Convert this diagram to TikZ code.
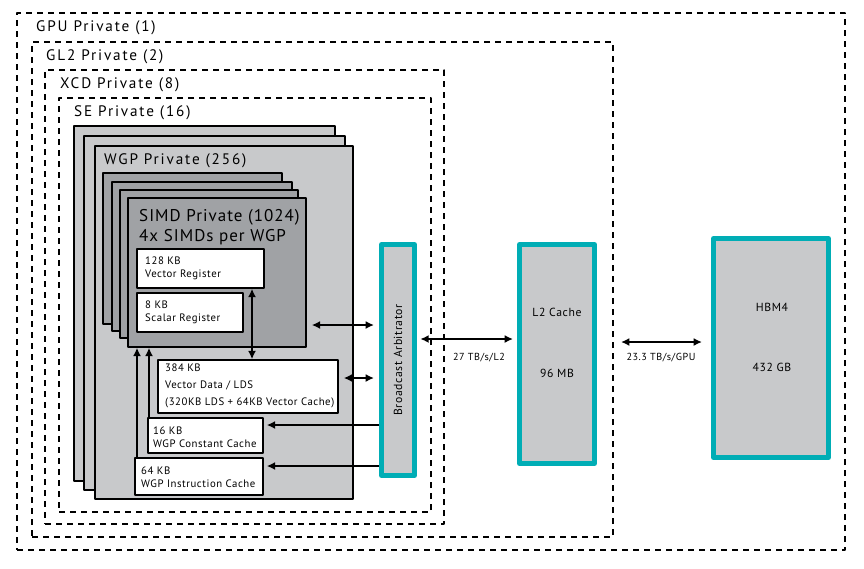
\documentclass[tikz,border=0pt]{standalone}
\usepackage{fontspec}
\setmainfont{PT Sans}
\newfontfamily\spacedfont[LetterSpace=12]{PT Sans}
\newfontfamily\simdfont[LetterSpace=6]{PT Sans}
\newfontfamily\smallfont[LetterSpace=5]{PT Sans}
\usetikzlibrary{arrows.meta,fit}
\usetikzlibrary{positioning}
\definecolor{wgpgray}{RGB}{200,201,203}
\definecolor{simdgray}{RGB}{160,162,165}
\definecolor{amdteal}{RGB}{0,173,181}
\tikzset{region/.style={draw,dash pattern=on 1.8mm off 1.5mm,line width=0.45mm,inner sep=0pt},
  wgpbox/.style={draw,fill=wgpgray,line width=0.45mm,inner sep=0pt},
  simdbox/.style={draw,fill=simdgray,line width=0.45mm,inner sep=0pt},
  membox/.style={draw,fill=white,line width=0.45mm,inner sep=0pt},
  tealbox/.style={draw=amdteal,fill=wgpgray,line width=1.5mm,inner sep=0pt},
  hdr/.style={anchor=west,inner sep=0pt,font=\spacedfont\fontsize{13}{15}\selectfont},
  small/.style={anchor=west,inner sep=0pt,align=left,font=\smallfont\fontsize{9.2}{11.2}\selectfont},
  celltxt/.style={font=\smallfont\fontsize{10}{12}\selectfont},
  bwtxt/.style={font=\smallfont\fontsize{8.7}{10}\selectfont},
  bus/.style={line width=0.55mm}}

\begin{document}
\begin{tikzpicture}[x=0.3mm,y=-0.3mm,>={Latex[length=2.5mm,width=2.4mm]},line join=round]
\useasboundingbox (0,0) rectangle (864,568);
% --- nested private regions
\node[region,fit={(17,13) (845,550)}] (gpu) {};
\node[region,fit={(32,42) (613,537)}] (gl2) {};
\node[region,fit={(45,70) (444,524)}] (xcd) {};
\node[region,fit={(59,98) (431,512)}] (se) {};
\node[hdr] (gpulbl) at (36,28) {GPU Private (1)};
\node[hdr] (gl2lbl) at (46,57) {GL2 Private (2)};
\node[hdr] (xcdlbl) at (60,85) {XCD Private (8)};
\node[hdr] (selbl) at (74,113) {SE Private (16)};
% --- WGP stack
\draw[wgpbox] (74,126) rectangle (335,481);
\draw[wgpbox] (84,136) rectangle (345,490);
\node[wgpbox,fit={(95,146) (353,499)}] (wgp) {};
\node[hdr] (wgplbl) at (104,161) {WGP Private (256)};
% --- SIMD stack
\draw[simdbox] (103,173) rectangle (282,324);
\draw[simdbox] (112,182) rectangle (292,331);
\draw[simdbox] (120,190) rectangle (298,338);
\node[simdbox,fit={(128,198) (306,347)}] (simd) {};
\node[hdr,align=left,font=\simdfont\fontsize{14.5}{17}\selectfont] (simdlbl) at (139,227) {SIMD Private (1024)\\4x SIMDs per WGP};
% --- memories
\node[membox,fit={(137,249) (264,288)}] (vreg) {};
\node[small] at (145,268.5) {128 KB\\Vector Register};
\node[membox,fit={(137,293) (243,332)}] (sreg) {};
\node[small] at (145,312) {8 KB\\Scalar Register};
\node[membox,fit={(158,360) (338,413)}] (vds) {};
\node[small,font=\smallfont\fontsize{9.2}{14.5}\selectfont] at (165,386) {384 KB\\Vector Data / LDS\\(320KB LDS + 64KB Vector Cache)};
\node[membox,fit={(148,418) (263,453)}] (kcache) {};
\node[small] at (153,437) {16 KB\\WGP Constant Cache};
\node[membox,fit={(135,458) (263,495)}] (icache) {};
\node[small] at (141,477) {64 KB\\WGP Instruction Cache};
% --- arbitrator, L2, HBM
\node[tealbox,fit={(381.5,244.5) (414.5,475.5)}] (arb) {};
\node[celltxt,rotate=90] at (arb.center) {Broadcast Arbitrator};
\node[tealbox,fit={(519.5,244.5) (594.5,463.5)}] (l2) {};
\node[celltxt] at (557,312) {L2 Cache};
\node[celltxt] at (557,373) {96 MB};
\node[tealbox,fit={(713.5,238.5) (828.5,457.5)}] (hbm) {};
\node[celltxt] at (772,307) {HBM4};
\node[celltxt] at (772,367) {432 GB};
% --- connections
\draw[bus,<->] (252,0 |- vreg.south) -- (252,0 |- vds.north);
\draw[bus,->] (137,0 |- icache.north) -- (137,0 |- simd.south);
\draw[bus,->] (149,0 |- kcache.north) -- (149,0 |- simd.south);
\draw[bus,<->,shorten <=1.5mm,shorten >=1.5mm] (simd.east |- 0,325) -- (arb.west |- 0,325);
\draw[bus,<->,shorten <=1.5mm,shorten >=1.5mm] (vds.east |- 0,378) -- (arb.west |- 0,378);
\draw[bus,->,shorten >=0.9mm] (arb.west |- 0,425) -- (kcache.east |- 0,425);
\draw[bus,->,shorten >=0.9mm] (arb.west |- 0,466) -- (icache.east |- 0,466);
\draw[bus,<->,shorten <=1mm,shorten >=1.2mm] (arb.east |- 0,339) -- (l2.west |- 0,339);
\draw[bus,<->,shorten <=7.2mm,shorten >=2.7mm] (l2.east |- 0,342) -- (hbm.west |- 0,342);
\node[bwtxt] (bwl2) at (479,358) {27 TB/s/L2};
\node[bwtxt] (bwhbm) at (661,358) {23.3 TB/s/GPU};
\end{tikzpicture}
\end{document}
